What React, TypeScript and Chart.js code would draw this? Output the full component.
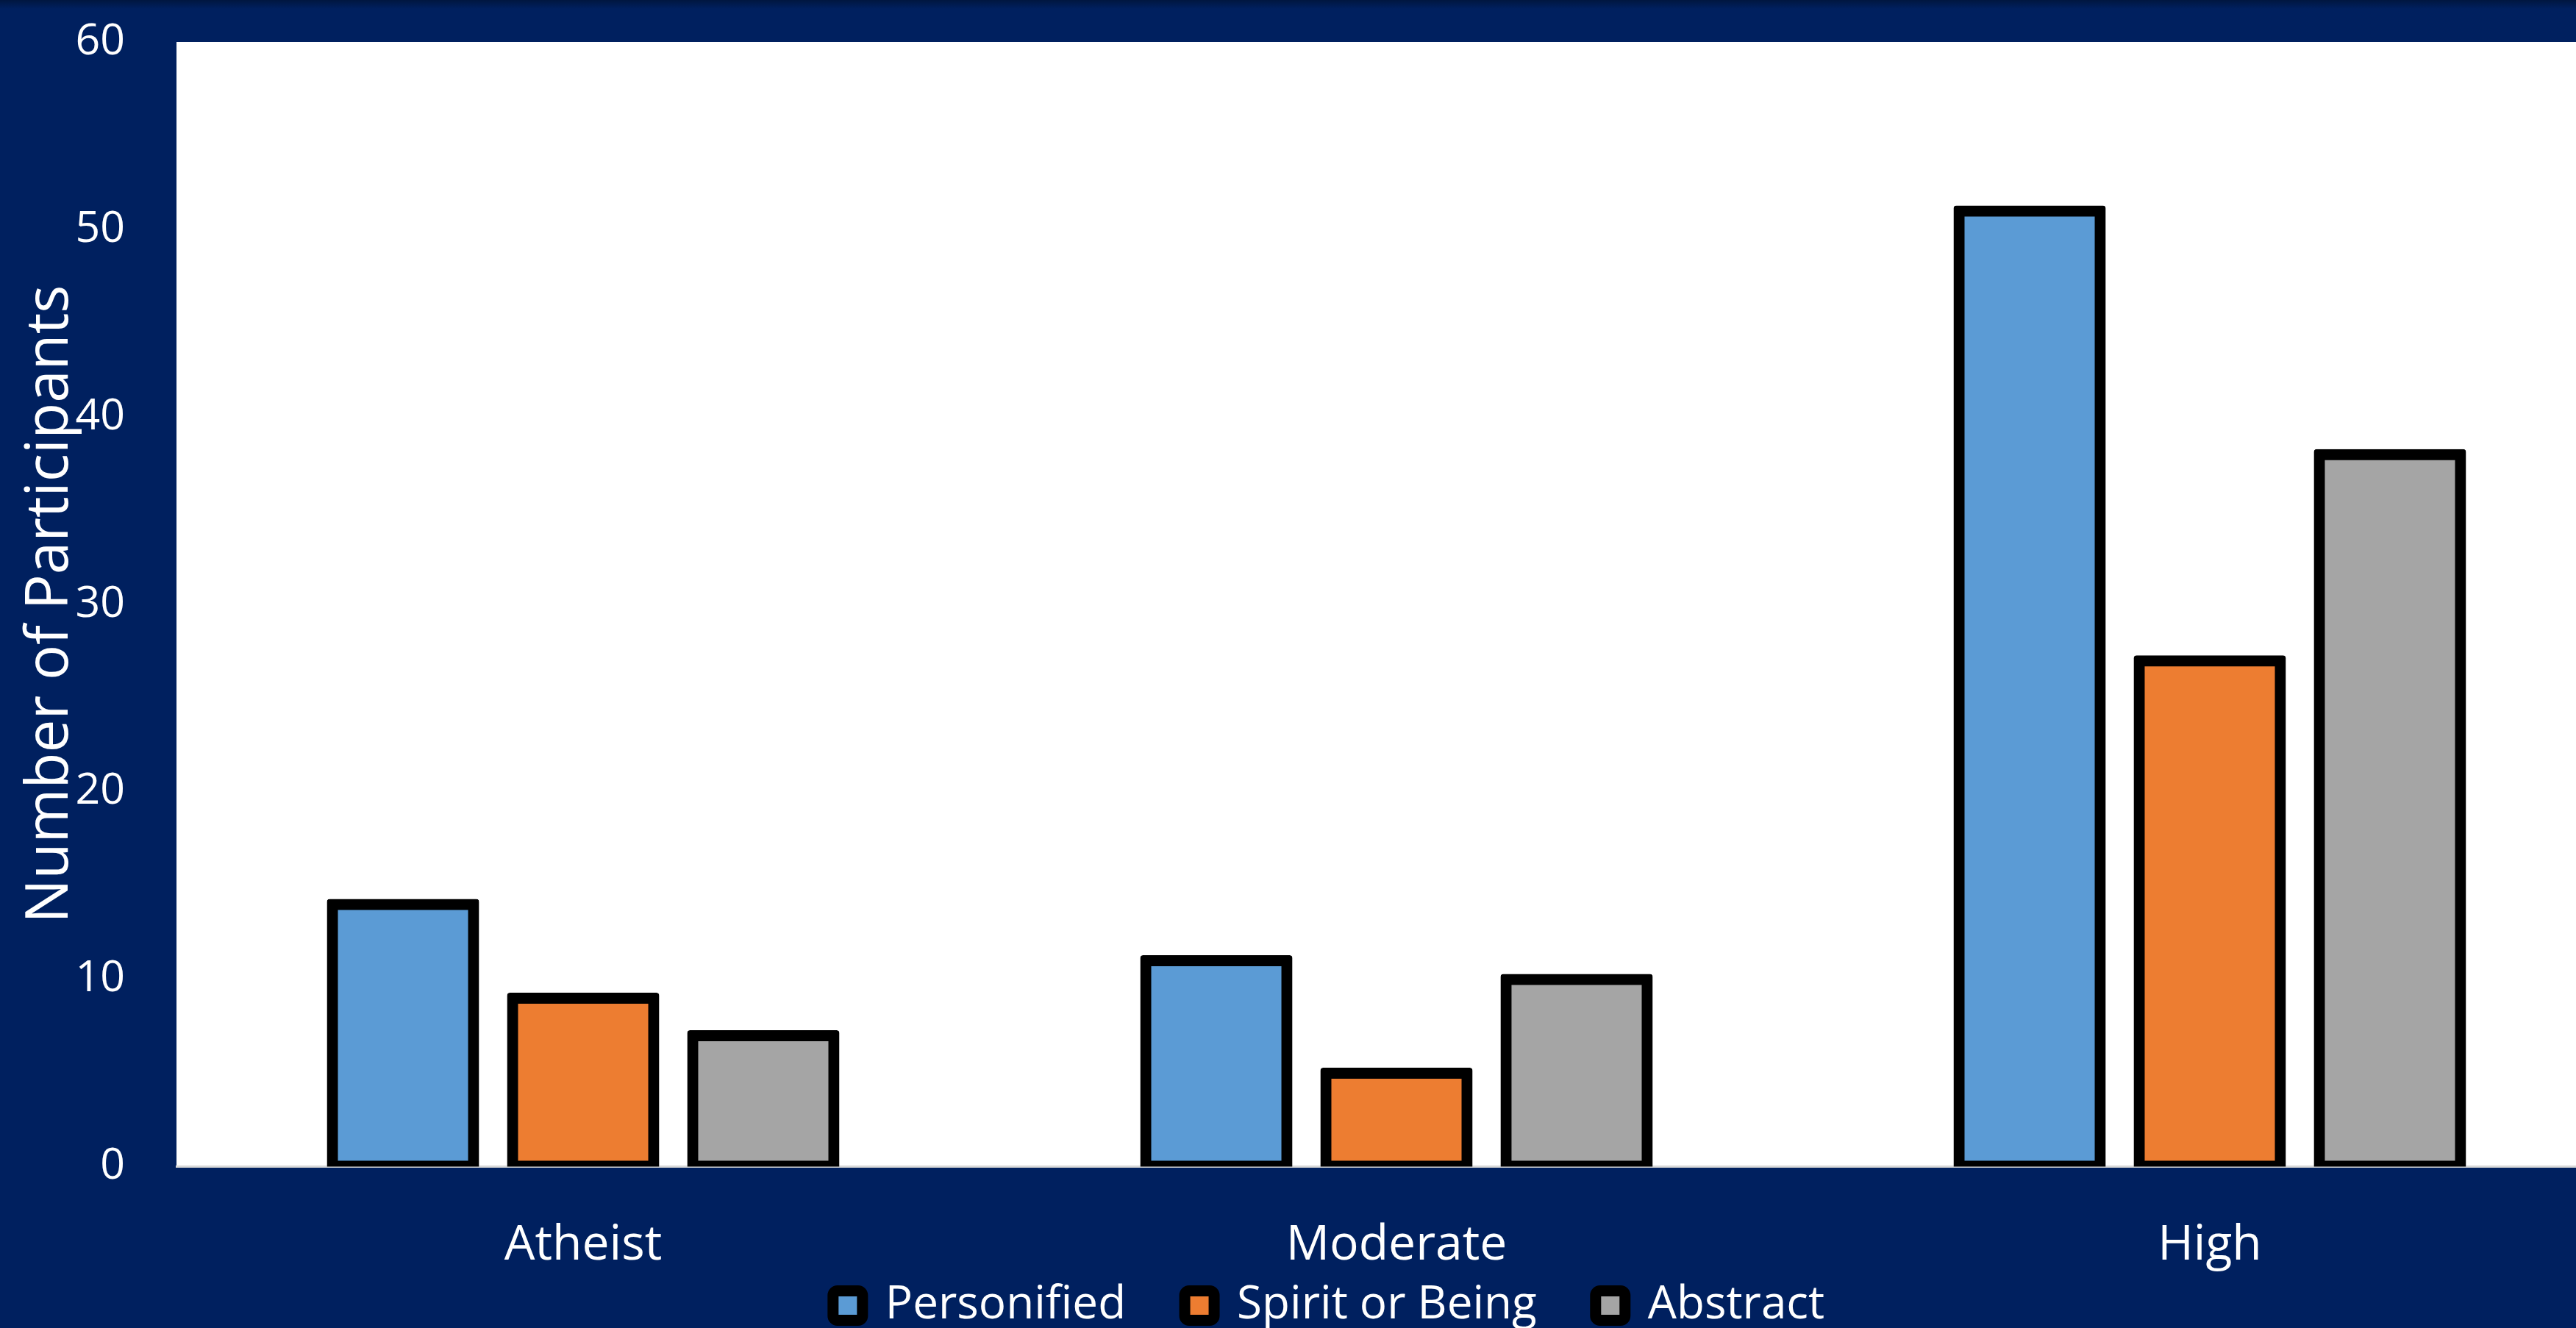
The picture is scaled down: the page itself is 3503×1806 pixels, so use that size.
import React, { useEffect, useRef } from "react";
import { Chart, registerables } from "chart.js";

Chart.register(...registerables);

const categories = ["Atheist", "Moderate", "High"];
const personified = [14, 11, 51];
const spiritOrBeing = [9, 5, 27];
const abstractValues = [7, 10, 38];
const seriesNames = ["Personified", "Spirit or Being", "Abstract"];
const seriesColors = ["#5B9BD5", "#ED7D31", "#A5A5A5"];
const yTicks = [0, 10, 20, 30, 40, 50, 60];

const FONT = "'Open Sans', 'DejaVu Sans', sans-serif";

const plotBackground = {
  id: "plotBackground",
  beforeDraw(chart: any) {
    const { ctx, chartArea } = chart;
    ctx.save();
    ctx.fillStyle = "#FFFFFF";
    ctx.fillRect(chartArea.left, chartArea.top, chartArea.right - chartArea.left, chartArea.bottom - chartArea.top);
    ctx.restore();
  },
};

// move the legend row up so it sits just under the category labels
const legendShift = {
  id: "legendShift",
  afterLayout(chart: any) {
    const lg = chart.legend;
    if (!lg) return;
    lg.top -= 68;
    lg.bottom -= 68;
  },
};

export default function App() {
  const ref = useRef<HTMLCanvasElement | null>(null);

  useEffect(() => {
    if (!ref.current) return;
    const values = [personified, spiritOrBeing, abstractValues];
    const chart = new Chart(ref.current, {
      type: "bar",
      data: {
        labels: categories,
        datasets: values.map((v, i) => ({
          label: seriesNames[i],
          data: v,
          backgroundColor: seriesColors[i],
          borderColor: "#000000",
          borderWidth: 15,
          borderSkipped: false,
          borderRadius: 4,
          inflateAmount: 7,
          categoryPercentage: 0.6645,
          barPercentage: 0.788,
          clip: { left: false, right: false, top: false, bottom: 0 },
        })),
      },
      options: {
        animation: false,
        responsive: false,
        devicePixelRatio: 1,
        events: [],
        layout: { padding: { left: 56, right: 2, top: 57, bottom: 1.5 } },
        plugins: {
          tooltip: { enabled: false },
          title: { display: false },
          legend: {
            display: true,
            position: "bottom",
            labels: {
              color: "#FFFFFF",
              font: { family: FONT, size: 62 },
              boxWidth: 40,
              boxHeight: 40,
              padding: 80,
              useBorderRadius: true,
              borderRadius: 6,
            },
          },
        },
        scales: {
          x: {
            grid: { display: false },
            border: { display: true, color: "#D9D9D9", width: 3 },
            ticks: {
              color: "#FFFFFF",
              font: { family: FONT, size: 66 },
              padding: 60,
              maxRotation: 0,
            },
            afterFit: (scale: any) => {
              scale.height = 146;
              scale.paddingLeft = 0;
              scale.paddingRight = 0;
            },
          },
          y: {
            min: 0,
            max: 60,
            grid: { display: false },
            border: { display: false },
            afterBuildTicks: (scale: any) => {
              scale.ticks = yTicks.map((v) => ({ value: v }));
            },
            ticks: {
              color: "#FFFFFF",
              font: { family: FONT, size: 59 },
              padding: 62,
            },
            title: {
              display: true,
              text: "Number of Participants",
              color: "#FFFFFF",
              font: { family: FONT, size: 80, lineHeight: 0.325 },
              padding: { top: 0, bottom: 0 },
            },
            afterFit: (scale: any) => {
              scale.width = 184;
              scale.paddingTop = 0;
              scale.paddingBottom = 0;
            },
          },
        },
      },
      plugins: [plotBackground, legendShift],
    } as any);
    return () => chart.destroy();
  }, []);

  return (
    <div
      style={{
        position: "fixed",
        left: 0,
        top: 0,
        width: 3503,
        height: 1806,
        overflow: "hidden",
        background: "linear-gradient(to bottom, #00163f 0px, #00205f 12px, #00205f 100%)",
      }}
    >
      <canvas ref={ref} width={3560} height={1886} style={{ display: "block", width: 3560, height: 1886 }} />
    </div>
  );
}
